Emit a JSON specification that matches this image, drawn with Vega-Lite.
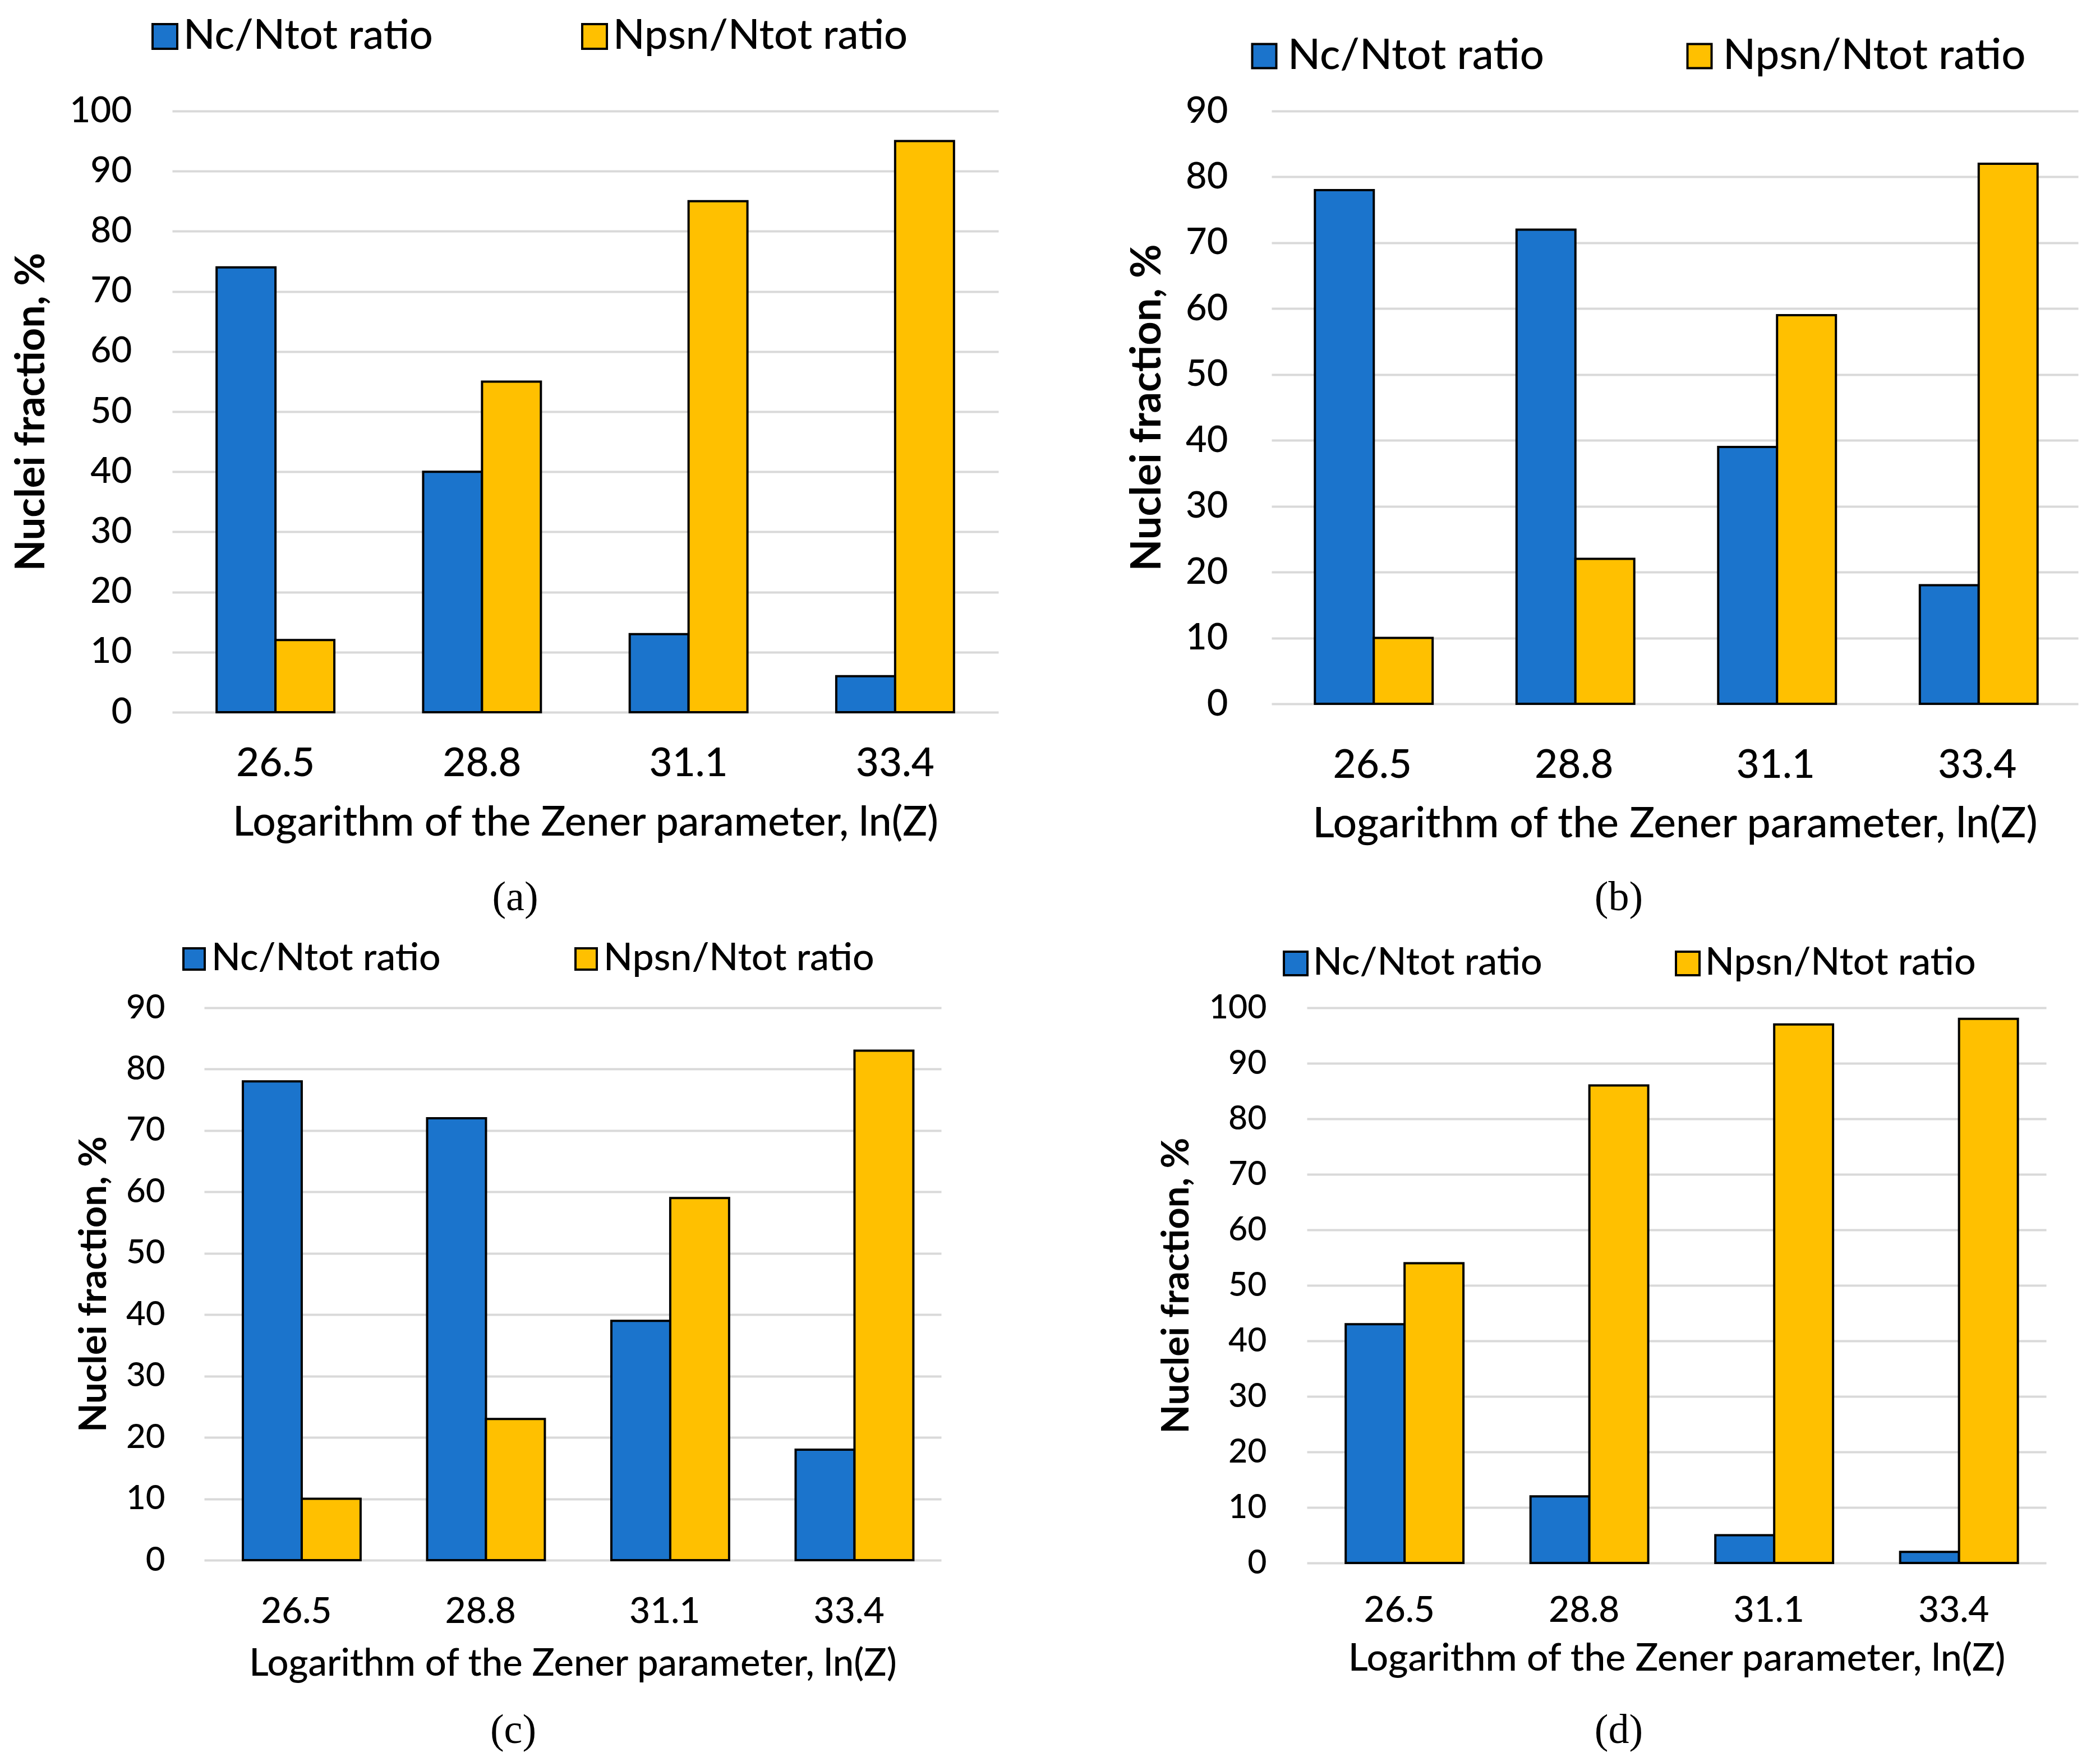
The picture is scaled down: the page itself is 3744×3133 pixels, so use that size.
{
  "$schema": "https://vega.github.io/schema/vega-lite/v6.json",
  "background": "white",
  "padding": {"left": 20, "top": 28, "right": 5, "bottom": 5},
  "datasets": {
    "bars": [
      {"panel": "a", "z": "26.5", "series": "Nc/Ntot ratio", "value": 74},
      {"panel": "a", "z": "26.5", "series": "Npsn/Ntot ratio", "value": 12},
      {"panel": "a", "z": "28.8", "series": "Nc/Ntot ratio", "value": 40},
      {"panel": "a", "z": "28.8", "series": "Npsn/Ntot ratio", "value": 55},
      {"panel": "a", "z": "31.1", "series": "Nc/Ntot ratio", "value": 13},
      {"panel": "a", "z": "31.1", "series": "Npsn/Ntot ratio", "value": 85},
      {"panel": "a", "z": "33.4", "series": "Nc/Ntot ratio", "value": 6},
      {"panel": "a", "z": "33.4", "series": "Npsn/Ntot ratio", "value": 95},
      {"panel": "b", "z": "26.5", "series": "Nc/Ntot ratio", "value": 78},
      {"panel": "b", "z": "26.5", "series": "Npsn/Ntot ratio", "value": 10},
      {"panel": "b", "z": "28.8", "series": "Nc/Ntot ratio", "value": 72},
      {"panel": "b", "z": "28.8", "series": "Npsn/Ntot ratio", "value": 22},
      {"panel": "b", "z": "31.1", "series": "Nc/Ntot ratio", "value": 39},
      {"panel": "b", "z": "31.1", "series": "Npsn/Ntot ratio", "value": 59},
      {"panel": "b", "z": "33.4", "series": "Nc/Ntot ratio", "value": 18},
      {"panel": "b", "z": "33.4", "series": "Npsn/Ntot ratio", "value": 82},
      {"panel": "c", "z": "26.5", "series": "Nc/Ntot ratio", "value": 78},
      {"panel": "c", "z": "26.5", "series": "Npsn/Ntot ratio", "value": 10},
      {"panel": "c", "z": "28.8", "series": "Nc/Ntot ratio", "value": 72},
      {"panel": "c", "z": "28.8", "series": "Npsn/Ntot ratio", "value": 23},
      {"panel": "c", "z": "31.1", "series": "Nc/Ntot ratio", "value": 39},
      {"panel": "c", "z": "31.1", "series": "Npsn/Ntot ratio", "value": 59},
      {"panel": "c", "z": "33.4", "series": "Nc/Ntot ratio", "value": 18},
      {"panel": "c", "z": "33.4", "series": "Npsn/Ntot ratio", "value": 83},
      {"panel": "d", "z": "26.5", "series": "Nc/Ntot ratio", "value": 43},
      {"panel": "d", "z": "26.5", "series": "Npsn/Ntot ratio", "value": 54},
      {"panel": "d", "z": "28.8", "series": "Nc/Ntot ratio", "value": 12},
      {"panel": "d", "z": "28.8", "series": "Npsn/Ntot ratio", "value": 86},
      {"panel": "d", "z": "31.1", "series": "Nc/Ntot ratio", "value": 5},
      {"panel": "d", "z": "31.1", "series": "Npsn/Ntot ratio", "value": 97},
      {"panel": "d", "z": "33.4", "series": "Nc/Ntot ratio", "value": 2},
      {"panel": "d", "z": "33.4", "series": "Npsn/Ntot ratio", "value": 98}
    ]
  },
  "config": {
    "font": "Lato",
    "view": {"stroke": null},
    "axis": {"domain": false, "ticks": false, "tickSize": 0, "labelColor": "black", "titleColor": "black", "labelFont": "Lato", "titleFont": "Lato"},
    "axisX": {"grid": false, "labelAngle": 0, "titleFontWeight": 500, "labelFontWeight": 500},
    "axisY": {"grid": true, "gridColor": "#D9D9D9", "gridWidth": 4, "titleFontWeight": "bold", "labelFontWeight": 500},
    "legend": {"orient": "none", "direction": "horizontal", "symbolType": "square", "symbolStrokeColor": "black", "symbolStrokeWidth": 4, "labelFont": "Lato", "labelFontWeight": 500, "labelColor": "black", "padding": 0, "labelLimit": 0, "symbolOpacity": 1},
    "title": {"font": "Liberation Serif", "color": "black", "fontWeight": "normal"}
  },
  "resolve": {"scale": {"color": "independent"}, "legend": {"color": "independent"}},
  "center": true,
  "spacing": 38,
  "vconcat": [
    {
      "hconcat": [
        {
          "width": 1473, "height": 1072,
          "data": {"name": "bars"},
          "transform": [{"filter": {"field": "panel", "equal": "a"}}],
          "mark": {"type": "bar", "stroke": "black", "strokeWidth": 4},
          "encoding": {
            "x": {"field": "z", "type": "nominal", "sort": null, "scale": {"paddingInner": 0.43, "paddingOuter": 0.215},
                  "axis": {"title": "Logarithm of the Zener parameter, ln(Z)", "labelFontSize": 71, "titleFontSize": 73, "labelPadding": 57, "titlePadding": 34}},
            "xOffset": {"field": "series", "type": "nominal", "sort": null, "scale": {"paddingInner": 0, "paddingOuter": 0}},
            "y": {"field": "value", "type": "quantitative", "scale": {"domain": [0, 100], "nice": false},
                  "axis": {"title": "Nuclei fraction, %", "values": [0, 10, 20, 30, 40, 50, 60, 70, 80, 90, 100], "labelFontSize": 64, "titleFontSize": 72, "labelPadding": 72, "titlePadding": 30}},
            "color": {"field": "series", "type": "nominal", "sort": null,
                      "scale": {"domain": ["Nc/Ntot ratio", "Npsn/Ntot ratio"], "range": ["#1B74CC", "#FFC000"]},
                      "legend": {"title": null, "legendX": -50, "legendY": -170, "symbolSize": 1936, "labelFontSize": 74, "labelOffset": -4, "columnPadding": 251}}
          },
          "title": {"text": "(a)", "orient": "bottom", "fontSize": 74, "offset": 61, "dx": -125, "anchor": "middle"}
        },
        {
          "width": 1438, "height": 1057,
          "data": {"name": "bars"},
          "transform": [{"filter": {"field": "panel", "equal": "b"}}],
          "mark": {"type": "bar", "stroke": "black", "strokeWidth": 4},
          "encoding": {
            "x": {"field": "z", "type": "nominal", "sort": null, "scale": {"paddingInner": 0.43, "paddingOuter": 0.215},
                  "axis": {"title": "Logarithm of the Zener parameter, ln(Z)", "labelFontSize": 71, "titleFontSize": 75, "labelPadding": 75, "titlePadding": 33}},
            "xOffset": {"field": "series", "type": "nominal", "sort": null, "scale": {"paddingInner": 0, "paddingOuter": 0}},
            "y": {"field": "value", "type": "quantitative", "scale": {"domain": [0, 90], "nice": false},
                  "axis": {"title": "Nuclei fraction, %", "values": [0, 10, 20, 30, 40, 50, 60, 70, 80, 90], "labelFontSize": 65, "titleFontSize": 74, "labelPadding": 78, "titlePadding": 29}},
            "color": {"field": "series", "type": "nominal", "sort": null,
                      "scale": {"domain": ["Nc/Ntot ratio", "Npsn/Ntot ratio"], "range": ["#1B74CC", "#FFC000"]},
                      "legend": {"title": null, "legendX": -51, "legendY": -136, "symbolSize": 1849, "labelFontSize": 76, "labelOffset": 4, "columnPadding": 239}}
          },
          "title": {"text": "(b)", "orient": "bottom", "fontSize": 74, "offset": 58, "dx": -100, "anchor": "middle"}
        }
      ],
      "bounds": "flush",
      "spacing": 487,
      "resolve": {"scale": {"color": "independent"}, "legend": {"color": "independent"}}
    },
    {
      "hconcat": [
        {
          "width": 1314, "height": 985,
          "data": {"name": "bars"},
          "transform": [{"filter": {"field": "panel", "equal": "c"}}],
          "mark": {"type": "bar", "stroke": "black", "strokeWidth": 4},
          "encoding": {
            "x": {"field": "z", "type": "nominal", "sort": null, "scale": {"paddingInner": 0.42, "paddingOuter": 0.21},
                  "axis": {"title": "Logarithm of the Zener parameter, ln(Z)", "labelFontSize": 64, "titleFontSize": 67, "labelPadding": 60, "titlePadding": 28}},
            "xOffset": {"field": "series", "type": "nominal", "sort": null, "scale": {"paddingInner": 0, "paddingOuter": 0}},
            "y": {"field": "value", "type": "quantitative", "scale": {"domain": [0, 90], "nice": false},
                  "axis": {"title": "Nuclei fraction, %", "values": [0, 10, 20, 30, 40, 50, 60, 70, 80, 90], "labelFontSize": 60, "titleFontSize": 67, "labelPadding": 70, "titlePadding": 22}},
            "color": {"field": "series", "type": "nominal", "sort": null,
                      "scale": {"domain": ["Nc/Ntot ratio", "Npsn/Ntot ratio"], "range": ["#1B74CC", "#FFC000"]},
                      "legend": {"title": null, "legendX": -52, "legendY": -121, "symbolSize": 1444, "labelFontSize": 68, "labelOffset": -3, "columnPadding": 225}}
          },
          "title": {"text": "(c)", "orient": "bottom", "fontSize": 74, "offset": 50, "dx": -106, "anchor": "middle"}
        },
        {
          "width": 1318, "height": 990,
          "data": {"name": "bars"},
          "transform": [{"filter": {"field": "panel", "equal": "d"}}],
          "mark": {"type": "bar", "stroke": "black", "strokeWidth": 4},
          "encoding": {
            "x": {"field": "z", "type": "nominal", "sort": null, "scale": {"paddingInner": 0.42, "paddingOuter": 0.21},
                  "axis": {"title": "Logarithm of the Zener parameter, ln(Z)", "labelFontSize": 64, "titleFontSize": 68, "labelPadding": 53, "titlePadding": 20}},
            "xOffset": {"field": "series", "type": "nominal", "sort": null, "scale": {"paddingInner": 0, "paddingOuter": 0}},
            "y": {"field": "value", "type": "quantitative", "scale": {"domain": [0, 100], "nice": false},
                  "axis": {"title": "Nuclei fraction, %", "values": [0, 10, 20, 30, 40, 50, 60, 70, 80, 90, 100], "labelFontSize": 59, "titleFontSize": 67, "labelPadding": 72, "titlePadding": 23}},
            "color": {"field": "series", "type": "nominal", "sort": null,
                      "scale": {"domain": ["Nc/Ntot ratio", "Npsn/Ntot ratio"], "range": ["#1B74CC", "#FFC000"]},
                      "legend": {"title": null, "legendX": -54, "legendY": -113, "symbolSize": 1764, "labelFontSize": 68, "labelOffset": -3, "columnPadding": 225}}
          },
          "title": {"text": "(d)", "orient": "bottom", "fontSize": 74, "offset": 58, "dx": -103, "anchor": "middle"}
        }
      ],
      "bounds": "flush",
      "spacing": 652,
      "resolve": {"scale": {"color": "independent"}, "legend": {"color": "independent"}}
    }
  ]
}
